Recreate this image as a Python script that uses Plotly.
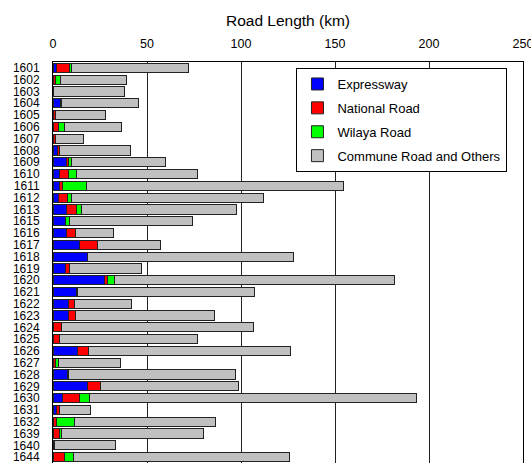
import plotly.graph_objects as go

communes = ["1601", "1602", "1603", "1604", "1605", "1606", "1607", "1608", "1609", "1610",
            "1611", "1612", "1613", "1615", "1616", "1617", "1618", "1619", "1620", "1621",
            "1622", "1623", "1624", "1625", "1626", "1627", "1628", "1629", "1630", "1631",
            "1632", "1639", "1640", "1644"]

expressway = [1.8, 0.5, 0, 4.1, 0, 0, 0, 2.3, 7.0, 3.2,
              3.2, 2.9, 7.1, 6.4, 7.1, 14.3, 18.4, 6.4, 27.3, 12.3,
              8.2, 8.2, 0, 0, 13.2, 0, 7.7, 18.4, 5.3, 1.6,
              0, 0, 0.3, 0]
national_road = [6.8, 0.7, 0.3, 0.3, 1.2, 2.9, 1.2, 1.4, 1.4, 5.0,
                 1.8, 4.8, 5.4, 0, 4.9, 9.4, 0, 2.5, 1.6, 0.7,
                 3.0, 3.9, 4.7, 3.4, 5.9, 1.4, 0.7, 6.6, 8.8, 1.6,
                 2.1, 3.2, 0.4, 5.9]
wilaya_road = [1.5, 3.0, 0, 0, 0, 3.0, 0, 0, 1.2, 4.3,
               12.9, 2.3, 2.8, 2.4, 0, 0, 0, 0, 3.7, 0,
               0, 0, 0, 0, 0, 1.5, 0, 0, 5.5, 0,
               9.1, 1.5, 0, 4.8]
commune_road = [61.8, 35.0, 37.7, 40.9, 26.8, 30.5, 14.8, 37.3, 50.5, 64.3,
                136.5, 101.8, 82.2, 65.5, 20.1, 33.5, 109.3, 38.4, 149.2, 94.3,
                30.5, 73.7, 101.7, 73.3, 107.3, 32.8, 88.6, 73.8, 174.0, 17.0,
                75.1, 75.5, 32.7, 115.1]

series = [
    ("Expressway", expressway, "#0000FF"),
    ("National Road", national_road, "#FF0000"),
    ("Wilaya Road", wilaya_road, "#00FF00"),
    ("Commune Road and Others", commune_road, "#C0C0C0"),
]

x_ticks = [0, 50, 100, 150, 200, 250]

fig = go.Figure()
for i, (name, vals, col) in enumerate(series):
    fig.add_trace(go.Bar(
        y=communes, x=vals, name=name, orientation="h",
        marker=dict(color=col, line=dict(color="#222222", width=1)),
        legendgroup=f"g{i}",
    ))

fig.update_layout(
    width=531, height=463,
    margin=dict(l=53, r=8, t=62, b=0, autoexpand=False),
    barmode="stack", bargap=0.22,
    plot_bgcolor="white", paper_bgcolor="white",
    font=dict(family="Arial, Liberation Sans, sans-serif", color="black", size=12),
    showlegend=True,
    legend=dict(
        x=0.518, y=0.985, xanchor="left", yanchor="top",
        bgcolor="white", bordercolor="black", borderwidth=1,
        font=dict(size=13), traceorder="grouped", tracegroupgap=4,
    ),
    xaxis=dict(
        side="top", range=[0, 250], tickvals=x_ticks, automargin=False,
        showgrid=True, gridcolor="#222222", gridwidth=1,
        showline=True, linecolor="black", linewidth=1, mirror=True,
        zeroline=False, ticks="", ticklabelstandoff=8, ticklabeloverflow="allow",
        tickfont=dict(size=12.5),
        title=dict(text="Road Length (km)", font=dict(size=15.5), standoff=6),
    ),
    yaxis=dict(
        autorange="reversed", type="category", automargin=False,
        tickmode="array", tickvals=communes,
        showline=True, linecolor="black", linewidth=1, mirror=True,
        showgrid=False, ticks="", ticklabelstandoff=10,
        tickfont=dict(size=12),
    ),
)

fig.write_html(
    "out.html",
    config={"displayModeBar": False},
    post_script="document.body.style.margin='0';document.body.style.overflow='hidden';"
                "document.documentElement.style.overflow='hidden';",
)
